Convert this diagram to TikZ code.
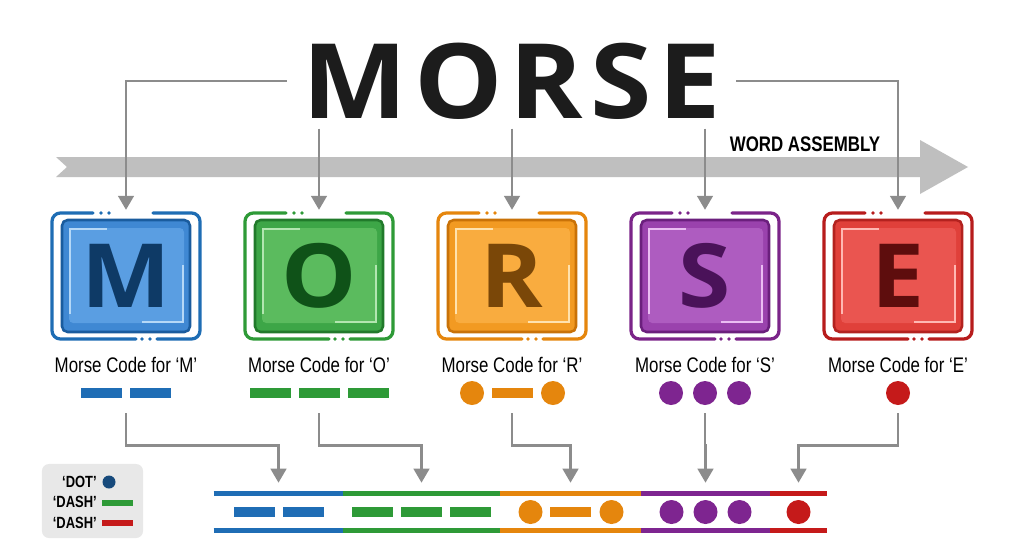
\documentclass[tikz,border=0pt]{standalone}
\usepackage{fontspec}
\setmainfont{Open Sans}
\newfontfamily\condfont[FakeStretch=0.8]{Liberation Sans}
\newfontfamily\widefont[FakeStretch=1.07]{Open Sans}
\usetikzlibrary{arrows.meta,positioning}

\definecolor{titleblack}{HTML}{1C1C1C}
\definecolor{bandgray}{HTML}{BFBFBF}
\definecolor{arrowgray}{HTML}{8C8C8C}
\definecolor{leggray}{HTML}{E8E8E8}
\definecolor{legnavy}{HTML}{174A7C}
% frame, fill, border, panel, highlight, letter, code
\definecolor{frblue}{HTML}{1E6DB4}\definecolor{fiblue}{HTML}{3F88D3}\definecolor{bdblue}{HTML}{1A5C9E}
\definecolor{pnblue}{HTML}{5A9EE2}\definecolor{hiblue}{HTML}{B5D8F7}\definecolor{txblue}{HTML}{0E3A66}
\definecolor{cdblue}{HTML}{1F6DB5}
\definecolor{frgreen}{HTML}{2E9A37}\definecolor{figreen}{HTML}{3DA647}\definecolor{bdgreen}{HTML}{217A2B}
\definecolor{pngreen}{HTML}{5BBB5E}\definecolor{higreen}{HTML}{B2E6B0}\definecolor{txgreen}{HTML}{0F5218}
\definecolor{cdgreen}{HTML}{2E9A37}
\definecolor{frorange}{HTML}{E5860D}\definecolor{fiorange}{HTML}{F29A22}\definecolor{bdorange}{HTML}{C97208}
\definecolor{pnorange}{HTML}{F9AC3F}\definecolor{hiorange}{HTML}{FFE2AE}\definecolor{txorange}{HTML}{7A4708}
\definecolor{cdorange}{HTML}{E5860D}
\definecolor{frpurple}{HTML}{7B2489}\definecolor{fipurple}{HTML}{9A42AD}\definecolor{bdpurple}{HTML}{6B1F7D}
\definecolor{pnpurple}{HTML}{AE5CC0}\definecolor{hipurple}{HTML}{EBBDF3}\definecolor{txpurple}{HTML}{4A1259}
\definecolor{cdpurple}{HTML}{7E2590}
\definecolor{frred}{HTML}{B71C1C}\definecolor{fired}{HTML}{E0403A}\definecolor{bdred}{HTML}{B3221F}
\definecolor{pnred}{HTML}{EA5550}\definecolor{hired}{HTML}{FFB8B3}\definecolor{txred}{HTML}{5E0D0D}
\definecolor{cdred}{HTML}{C51A1A}

\tikzset{
  conn/.style={draw=arrowgray, line width=2.1pt, -{Triangle[width=11pt,length=10pt]}},
  lbl/.style={font={\condfont\fontsize{15}{15}\selectfont}, text=black},
  legtext/.style={font={\condfont\bfseries\fontsize{11.5}{11.5}\selectfont}, anchor=east, inner sep=0pt},
  boxnode/.style={minimum width=3.7cm, minimum height=3.15cm, inner sep=0pt,
    font={\widefont\fontsize{63}{63}\selectfont\bfseries}},
  segbox/.style={minimum height=0.9cm, inner sep=0pt}
}

\begin{document}
\begin{tikzpicture}[x=0.025cm, y=-0.025cm]
\useasboundingbox[fill=white] (0,0) rectangle (1024,559);

% word assembly band
\fill[bandgray] (56,157) -- (920,157) -- (920,140) -- (968,167) -- (920,194)
  -- (920,177) -- (56,177) -- (67,167) -- cycle;
\node[font={\condfont\bfseries\fontsize{15}{15}\selectfont}] (wordlbl) at (805,144) {WORD ASSEMBLY};

% title
\node[font={\widefont\fontsize{74}{74}\selectfont\bfseries}, text=titleblack, inner xsep=10.7pt, inner ysep=6.4pt]
  (title) at (511.5,81) {M\kern5pt O\kern5pt R\kern5pt S\kern5pt E};

% letter boxes, labels and codes
\foreach \ltr/\cx/\sl/\sr/\col/\code in {
  M/126/214/343/blue/{0/-24.5,0/24.5},
  O/319/343/500/green/{0/-49,0/0,0/49},
  R/512/500/641/orange/{1/-40,0/0,1/41},
  S/705/641/770/purple/{1/-34,1/0,1/34},
  E/898/770/827/red/{1/0}}{
  \draw[fr\col, line width=2.3pt, rounded corners=6pt, line cap=round]
    (\cx-33,213) -- (\cx-74,213) -- (\cx-74,339) -- (\cx+10,339);
  \draw[fr\col, line width=2.3pt, rounded corners=6pt, line cap=round]
    (\cx+31,339) -- (\cx+74,339) -- (\cx+74,213) -- (\cx+27,213);
  \foreach \d in {-25,-17} \fill[fr\col] (\cx+\d,213) circle[radius=1.9];
  \foreach \d in {16,24} \fill[fr\col] (\cx+\d,339) circle[radius=1.9];
  \draw[fill=fi\col, draw=bd\col, line width=1.8pt, rounded corners=4pt] (\cx-64,220) rectangle (\cx+64,332);
  \fill[pn\col, rounded corners=3pt] (\cx-57,228) rectangle (\cx+58,323);
  \draw[hi\col, line width=0.9pt] (\cx-56,314) -- (\cx-56,229) -- (\cx-19,229);
  \draw[hi\col, line width=0.9pt] (\cx+16,322) -- (\cx+57,322) -- (\cx+57,265);
  \node[boxnode, text=tx\col] (box\ltr) at (\cx,276) {\ltr};
  \node[lbl] (lbl\ltr) at (\cx,365) {Morse Code for ‘\ltr’};
  \node[inner sep=0pt, minimum height=1cm, minimum width=2.4cm] (code\ltr) at (\cx,393) {};
  % bar segment
  \pgfmathsetmacro\bx{(\sl+\sr)/2}
  \node[segbox, minimum width={(\sr-\sl)*0.025cm}] (seg\ltr) at (\bx,512) {};
  \draw[cd\col, line width=3.6pt] (seg\ltr.north west) -- (seg\ltr.north east);
  \draw[cd\col, line width=3.6pt] (seg\ltr.south west) -- (seg\ltr.south east);
  \foreach \k/\o in \code {
    \ifnum\k=1
      \fill[cd\col] (\cx+\o,393) circle[radius=12];
      \fill[cd\col] (\bx+\o,512) circle[radius=12];
    \else
      \fill[cd\col] (\cx+\o-20.5,388) rectangle (\cx+\o+20.5,398);
      \fill[cd\col] (\bx+\o-20.5,507) rectangle (\bx+\o+20.5,517);
    \fi
  }
  \draw[conn, shorten >=7.8pt] (code\ltr.south) -- ++(0,32) -| (seg\ltr.north);
}

% title to boxes
\draw[conn, shorten >=2pt] (title.west) -| (boxM.north);
\foreach \ltr in {O,R,S}
  \draw[conn, shorten >=2pt] (title.south -| box\ltr.north) -- (box\ltr.north);
\draw[conn, shorten >=2pt] (title.east) -| (boxE.north);

% legend
\node[fill=leggray, rounded corners=5pt, minimum width=2.525cm, minimum height=1.85cm] (legend) at (92.5,501) {};
\node[legtext] (legDot) at (97,482) {‘DOT’};
\node[legtext] (legDashA) at (97,502) {‘DASH’};
\node[legtext] (legDashB) at (97,523) {‘DASH’};
\fill[legnavy] (109,482) circle[radius=6.5];
\fill[cdgreen] (102,499.5) rectangle (133,505.5);
\fill[cdred] (102,520) rectangle (133,526);
\end{tikzpicture}
\end{document}
